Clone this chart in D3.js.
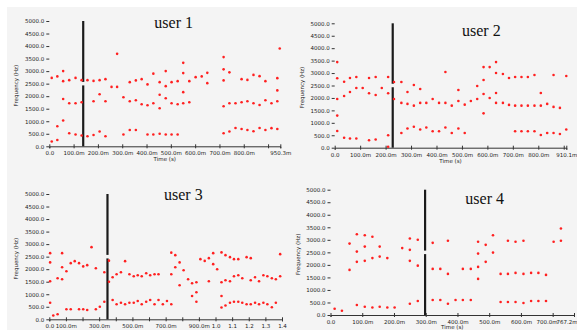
<!DOCTYPE html>
<html>
<head>
<meta charset="utf-8">
<title>Frequency over time, four users</title>
<script src="https://d3js.org/d3.v7.min.js"></script>
<style>
  body { margin: 0; background: #fff; }
  svg text { font-family: "DejaVu Sans", sans-serif; }
  svg text.title { font-family: "Liberation Serif", "DejaVu Serif", serif; }
</style>
</head>
<body>
<script>
// each entry: [time in ms, [frequencies in Hz]]
const user1 = [
  [10,[2730,190]], [33,[2790,800,250]], [57,[3000,2600,1890,1030]], [82,[2640,1720,520]],
  [108,[2730,1720,470]], [133,[2640,1760,430]], [157,[2640,400]], [182,[2610,1800,450]],
  [207,[2640,2080,590]], [231,[2680,1800,400]], [256,[2370]], [279,[2370,3690]],
  [305,[1960,470]], [331,[2560,1800,650]], [356,[2630,1840,650]], [380,[2680,1680]],
  [404,[2470,1640,470]], [428,[2900,1720,470]], [454,[2560,2060,1520,500]], [479,[3000,2400,1920,470]],
  [503,[2560,1720,470]], [528,[2600,1680,470]], [551,[3330,2920,2160,1720]], [576,[2600,1760]],
  [602,[2760]], [627,[2790]], [650,[2930,2520]], [717,[3560,3070,2630,1600,520]],
  [741,[2950,1720,590]], [766,[1720,730]], [791,[2680,1760,690]], [815,[2650,1800,650]],
  [840,[2850,1720,600]], [865,[2800,1650,730]], [889,[2600,1840,650]], [914,[1720,725]],
  [938,[2720,2230,1800,690]], [948,[3900]]
];
const user2 = [
  [10,[3440,2790,1960,1290,670]], [37,[2650,2080,400]], [60,[2800,2240,370]], [85,[2840,2400,370]],
  [110,[2400]], [135,[2800,2190,300]], [161,[2840,2120,330]], [185,[2400]],
  [210,[2840,2190,500,40]], [233,[2640,1960]], [262,[2640,1800,590]], [286,[2240,1760,770]],
  [311,[2520,1690,840]], [336,[2360,1800,730]], [360,[1800,810]], [385,[1960,660]],
  [410,[1800,660]], [435,[3040,1800,810]], [460,[1690,590]], [486,[2320,1880,770]],
  [511,[1730,590]], [535,[1880]], [560,[2480,1960]], [585,[3240,2720,2160,1380]],
  [609,[3240,2000]], [634,[3440,3000,2200,1800]], [661,[2960,1800]], [685,[2800,1720]],
  [709,[2840,1690,660]], [734,[2840,1690,660]], [759,[2840,1690,660]], [785,[2920,1690,660]],
  [810,[2200,1690,510]], [835,[1760,590]], [860,[2920,1640,590]], [885,[1600,550]],
  [910,[2880,730]]
];
const user3 = [
  [5,[2640,2270,1520,660]], [24,[150]], [50,[1640,200]], [77,[2640,2080,1600]],
  [103,[1920,400]], [129,[2240,400]], [153,[2320]], [179,[2240,400]],
  [204,[2110,400]], [228,[2160,370]], [254,[2880]], [280,[2040,400]],
  [304,[500]], [331,[1880,700]], [359,[2340,1500]], [381,[1680,770]],
  [405,[1800,600]], [431,[1880,660]], [456,[2320,600]], [482,[1800,660]],
  [508,[1720,660]], [532,[1760,730]], [556,[1720,600]], [583,[1840,700]],
  [607,[1760,770]], [633,[1800,600]], [657,[1800,770]], [683,[600]],
  [708,[730]], [734,[2660,1800,600]], [758,[2560,2080]], [784,[2270,1360]],
  [808,[1960]], [835,[1600]], [859,[1440,930]], [885,[1480,1080,700]],
  [909,[2400]], [935,[2330]], [960,[2440,1520]], [986,[2640,2200]],
  [1010,[2000]], [1036,[2670,1480,930,470]], [1060,[2560,1560,550]], [1087,[2480,1520,660]],
  [1111,[2400,1720,700]], [1137,[2400,1760,700]], [1161,[1640,660]], [1187,[2480,600]],
  [1212,[2440,1560,600]], [1238,[1680,660]], [1262,[1520,600]], [1288,[1760,660]],
  [1312,[1720,600]], [1339,[1640,480]], [1363,[1600,660]], [1389,[2600,1720]]
];
const user4 = [
  [13,[250]], [36,[170]], [60,[2850,1800]], [83,[3220,2530,2120,400]],
  [108,[3180,2730,2160,330]], [132,[3120,2270,300]], [155,[2730,2330,330]], [179,[2270,300]],
  [202,[300]], [226,[2670]], [250,[3050,2600,2160,450]], [275,[3000,1970,560]],
  [322,[2880,1840,600]], [346,[1840,600]], [370,[2960,1640,450]], [394,[600]],
  [417,[1840,600]], [442,[1840,600]], [465,[2920,2450,1920,1440]], [489,[2800,2120]],
  [512,[3180,2490]], [536,[1640,520]], [559,[2960,1640,520]], [583,[2920,1680,520]],
  [608,[2960,1640,480]], [632,[1680,560]], [655,[1680,560]], [679,[1600,560]],
  [703,[2920]], [726,[3450,2960]]
];

const titles = ["user 1", "user 2", "user 3", "user 4"];
const durations = [950.3, 910.1, 1400, 767.2];   // ms
const cursors = [139.5, 228, 350, 298];          // black marker position, ms
const xTicks = [
  [0,100,200,300,400,500,600,700,800,900,950.3],
  [0,100,200,300,400,500,600,700,800,900,910.1],
  [0,100,200,300,400,500,600,700,800,900,1000,1100,1200,1300,1400],
  [0,100,200,300,400,500,600,700,767.2]
];
const hiddenLabels = [[900], [900], [200,400,600,800], []];
const yTicks = d3.range(0, 5001, 500);

const width = 577, height = 330;

const panels = [
  {left: 49.3, right: 280.3, top: 21,    bottom: 146.3, tx: 173.7, ty: 28,  timeLabel: true},
  {left: 334.7, right: 566.3, top: 23.3, bottom: 147.7, tx: 481.3, ty: 36,  timeLabel: true},
  {left: 49.3, right: 282,   top: 194,   bottom: 319.3, tx: 183.3, ty: 200, timeLabel: false},
  {left: 330.5, right: 574,  top: 189.7, bottom: 315,   tx: 484.7, ty: 204, timeLabel: true}
];
const datasets = [user1, user2, user3, user4];

const svg = d3.select("body").append("svg")
    .attr("width", width)
    .attr("height", height);

svg.append("rect")
    .attr("x", 7).attr("y", 7)
    .attr("width", width - 7).attr("height", height - 7)
    .attr("fill", "#f4f4f4");

function fmt(v) {
  if (v === 0) return "0.0";
  if (v < 1000) return v.toFixed(1) + "m";
  return (v / 1000).toFixed(1);
}

panels.forEach(function(p, i) {
  const x = d3.scaleLinear().domain([0, durations[i]]).range([p.left, p.right]);
  const y = d3.scaleLinear().domain([0, 5000]).range([p.bottom, p.top]);
  const g = svg.append("g");

  // y axis: ticks and labels only
  const ya = g.append("g")
      .attr("transform", "translate(" + p.left + ",0)")
      .call(d3.axisLeft(y).tickValues(yTicks).tickSize(3).tickPadding(2)
            .tickFormat(d => d.toFixed(1)));
  ya.select(".domain").remove();
  ya.selectAll("line").attr("stroke", "#333");
  ya.selectAll("text").attr("font-size", 5.5).attr("fill", "#222");

  // x axis with crossing ticks
  const xa = g.append("g")
      .attr("transform", "translate(0," + p.bottom + ")")
      .call(d3.axisBottom(x).tickValues(xTicks[i]).tickSizeOuter(0).tickSize(2).tickPadding(3)
            .tickFormat(d => hiddenLabels[i].includes(d) ? "" : fmt(d)));
  xa.select(".domain").attr("stroke", "#333");
  xa.selectAll("line").attr("stroke", "#333").attr("y1", -2).attr("y2", 2);
  xa.selectAll("text").attr("font-size", 5.5).attr("fill", "#222");
  if (i === 3) {
    xa.selectAll(".tick").filter(d => d === 700).select("text")
        .attr("text-anchor", "end").attr("x", 4.5);
    xa.selectAll(".tick").filter(d => d === 767.2).select("text")
        .attr("text-anchor", "end").attr("x", 3);
  }

  g.append("text")
      .attr("transform", "translate(" + (p.left - 31) + "," + ((p.top + p.bottom) / 2 + 2) + ") rotate(-90)")
      .attr("text-anchor", "middle")
      .attr("font-size", 5.5)
      .attr("fill", "#222")
      .text("Frequency (Hz)");

  if (p.timeLabel) {
    g.append("text")
        .attr("x", (p.left + p.right) / 2)
        .attr("y", Math.min(p.bottom + 15, height - 1.5))
        .attr("text-anchor", "middle")
        .attr("font-size", 5.5)
        .attr("fill", "#222")
        .text("Time (s)");
  }

  // marker bar, broken around 2500 Hz
  [[0, 2430], [2570, 5000]].forEach(function(seg) {
    g.append("line")
        .attr("x1", x(cursors[i])).attr("x2", x(cursors[i]))
        .attr("y1", y(seg[0])).attr("y2", y(seg[1]))
        .attr("stroke", "#1a1a1a")
        .attr("stroke-width", 2.2);
  });

  const pts = [];
  datasets[i].forEach(function(c) {
    c[1].forEach(function(f) { pts.push({t: c[0], f: f}); });
  });

  g.selectAll("circle")
      .data(pts)
      .enter()
      .append("circle")
      .attr("cx", d => x(d.t))
      .attr("cy", d => y(d.f))
      .attr("r", 1.3)
      .attr("fill", "#ff2020");

  g.append("text")
      .attr("class", "title")
      .attr("x", p.tx)
      .attr("y", p.ty)
      .attr("text-anchor", "middle")
      .attr("font-size", 16)
      .attr("fill", "#111")
      .text(titles[i]);
});
</script>
</body>
</html>
